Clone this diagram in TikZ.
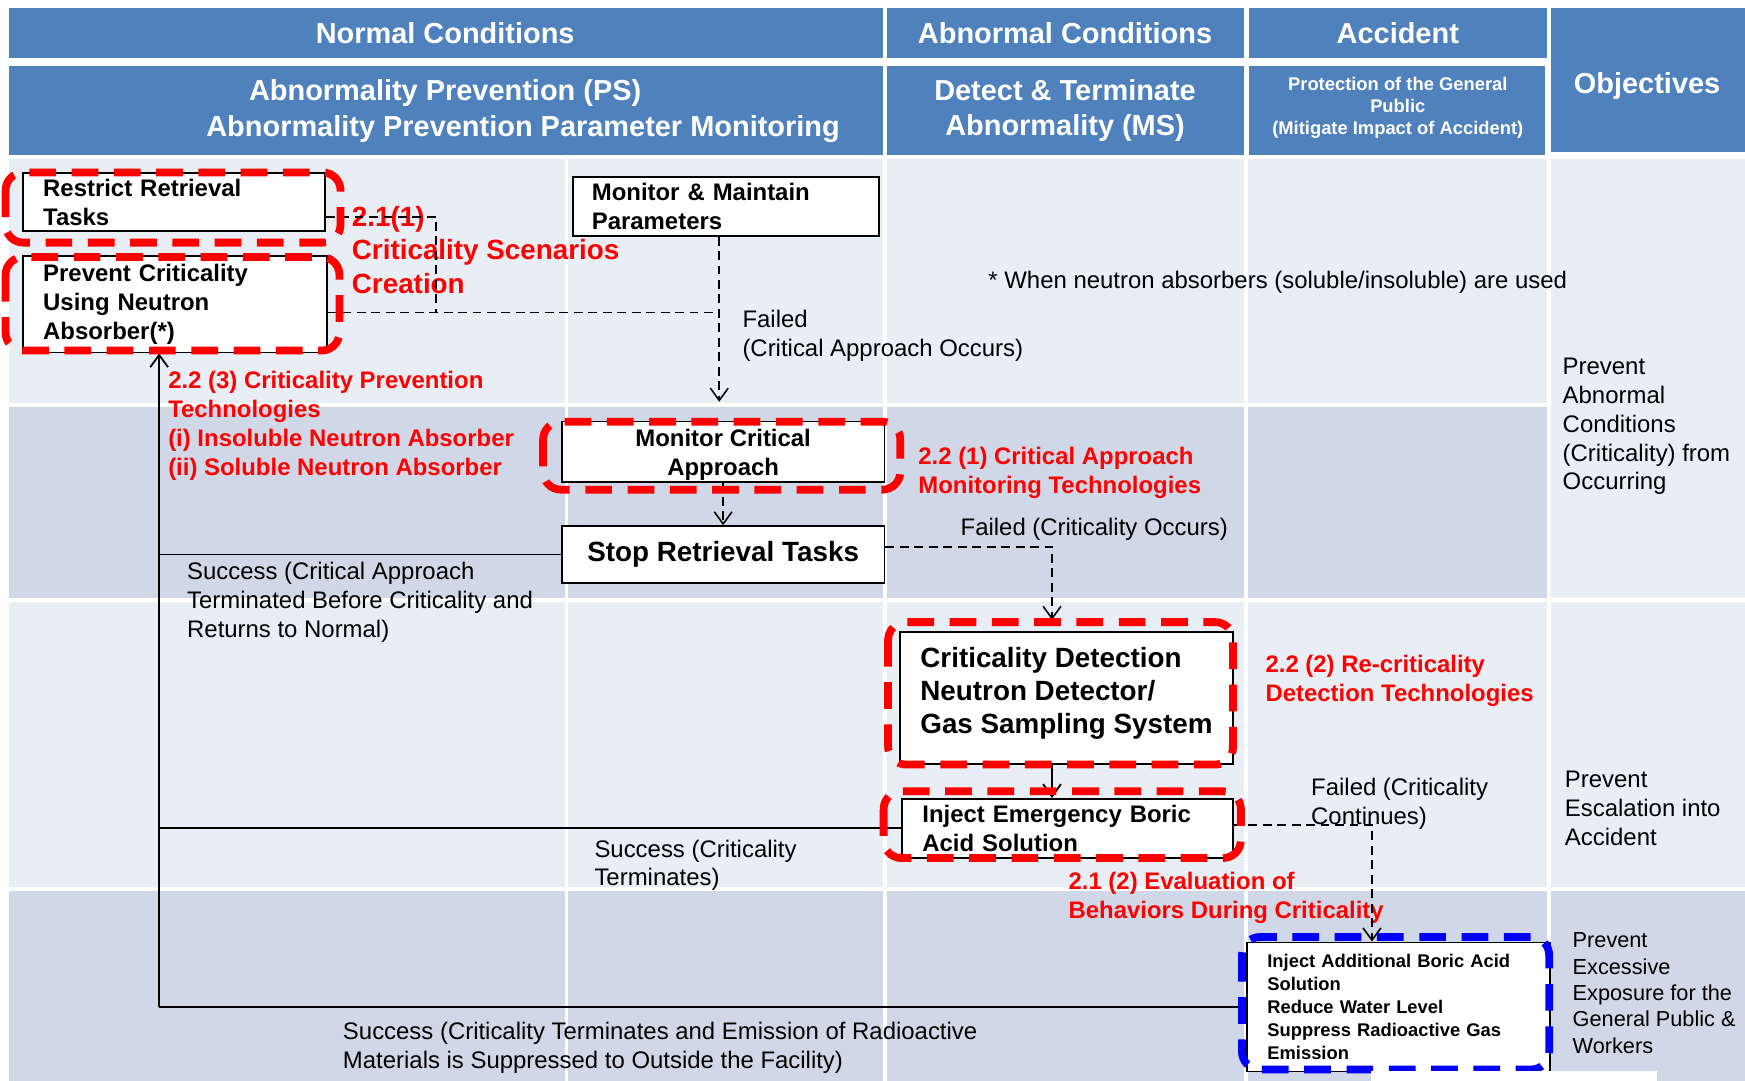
\documentclass[tikz,border=0pt]{standalone}
\usepackage{fontspec}
\setmainfont{Liberation Sans}
\usetikzlibrary{arrows.meta}
\definecolor{hdrblue}{HTML}{4F81BD}
\definecolor{rowlight}{HTML}{E9EDF4}
\definecolor{rowdark}{HTML}{D0D8E8}
\definecolor{hlred}{HTML}{FF0000}
\definecolor{hlblue}{HTML}{0000FF}
\newcommand{\fsz}[2]{\fontsize{#1}{#2}\selectfont}
\begin{document}
\begin{tikzpicture}[x=1pt,y=-1pt,
  hdrtxt/.style={text=white,inner sep=0pt,align=center,font=\bfseries\fsz{26}{31.5}},
  gridline/.style={white,line width=3.5pt},
  procbox/.style={draw=black,line width=1.6pt,fill=white,anchor=north west,align=left,inner xsep=18pt,inner ysep=0pt,font=\bfseries\fsz{21.5}{26}},
  cbox/.style={draw=black,line width=1.6pt,fill=white,anchor=north west,align=center,inner sep=0pt,minimum width=290pt,font=\bfseries\fsz{21.5}{26}},
  redframe/.style={draw=hlred,line width=7pt,rounded corners=16pt,dash pattern=on 24pt off 14pt},
  blueframe/.style={draw=hlblue,line width=7pt,rounded corners=16pt,dash pattern=on 24pt off 14pt},
  redlbl/.style={text=hlred,font=\bfseries\fsz{21.5}{26},anchor=north west,align=left,inner sep=0pt},
  lbl/.style={text=black,font=\fsz{21.5}{26},anchor=north west,align=left,inner sep=0pt},
  solidc/.style={draw=black,line width=1.6pt},
  dashc/.style={draw=black,line width=1.4pt,dash pattern=on 8pt off 5pt},
  barbtip/.style={-{Straight Barb[length=11pt,width=16pt]}},
]
\useasboundingbox (0,0) rectangle (1568,971);
\fill[white] (0,0) rectangle (1568,971);

% header cells
\fill[hdrblue] (8,7) rectangle (793,52);
\fill[hdrblue] (797,7) rectangle (1118,52);
\fill[hdrblue] (1122,7) rectangle (1390,52);
\fill[hdrblue] (8,59) rectangle (793,139);
\fill[hdrblue] (797,59) rectangle (1118,139);
\fill[hdrblue] (1122,59) rectangle (1388,139);
\fill[hdrblue] (1394,7) rectangle (1568,137);

% body bands
\fill[rowlight] (8,143) rectangle (1568,971);
\fill[rowdark] (8,364) rectangle (1392,539);
\fill[rowdark] (8,799) rectangle (1568,971);
\draw[gridline] (8,364) -- (1392,364);
\draw[gridline] (8,539) -- (1568,539);
\draw[gridline] (8,799) -- (1568,799);
\foreach \gx in {509,795,1120,1392} \draw[gridline] (\gx,143) -- (\gx,971);

% header texts
\node[hdrtxt,text height=18.7pt,text depth=0pt] (hNormal) at (400,30) {Normal Conditions};
\node[hdrtxt,text height=18.7pt,text depth=0pt] (hAbn) at (957,30) {Abnormal Conditions};
\node[hdrtxt,text height=18.7pt,text depth=0pt] (hAcc) at (1256,30) {Accident};
\node[hdrtxt,text height=18.7pt,text depth=0pt] (hPS1) at (400,81) {Abnormality Prevention (PS)};
\node[hdrtxt,text height=18.7pt,text depth=0pt] (hPS2) at (470,113) {Abnormality Prevention Parameter Monitoring};
\node[hdrtxt,anchor=north] (hMS) at (957,71.6) {Detect \& Terminate\\Abnormality (MS)};
\node[hdrtxt,anchor=north,font=\bfseries\fsz{16.5}{20}] (hProt) at (1256,69) {Protection of the General\\Public\\(Mitigate Impact of Accident)};
\node[hdrtxt,text height=18.7pt,text depth=0pt] (hObj) at (1480,75) {Objectives};

% labels
\node[redlbl,font=\bfseries\fsz{25}{30}] (L211) at (316,185) {2.1(1)\\Criticality Scenarios\\Creation};
\node[redlbl] (L223) at (151,333.3) {2.2 (3) Criticality Prevention\\Technologies\\(i) Insoluble Neutron Absorber\\(ii) Soluble Neutron Absorber};
\node[redlbl] (L221) at (825,401.3) {2.2 (1) Critical Approach\\Monitoring Technologies};
\node[redlbl] (L222) at (1137,588.3) {2.2 (2) Re-criticality\\Detection Technologies};
\node[redlbl] (L212) at (960,783.3) {2.1 (2) Evaluation of\\Behaviors During Criticality};

\node[lbl] (fail1) at (667,278.3) {Failed\\(Critical Approach Occurs)};
\node[lbl] (note) at (888,243.3) {* When neutron absorbers (soluble/insoluble) are used};
\node[lbl] (fail2) at (863,465.3) {Failed (Criticality Occurs)};
\node[lbl] (succ1) at (168,505.3) {Success (Critical Approach\\Terminated Before Criticality and\\Returns to Normal)};
\node[lbl] (fail3) at (1178,699.3) {Failed (Criticality\\Continues)};
\node[lbl] (succ2) at (534,754.3) {Success (Criticality\\Terminates)};
\node[lbl] (succ3) at (308,918.3) {Success (Criticality Terminates and Emission of Radioactive\\Materials is Suppressed to Outside the Facility)};
\node[lbl] (obj1) at (1404,321.3) {Prevent\\Abnormal\\Conditions\\(Criticality) from\\Occurring};
\node[lbl] (obj2) at (1406,692.3) {Prevent\\Escalation into\\Accident};
\node[lbl,font=\fsz{19.5}{23.7}] (obj3) at (1413,838) {Prevent\\Excessive\\Exposure for the\\General Public \&\\Workers};

% process boxes
\node[procbox,text width=235pt,minimum height=52pt] (RRT) at (20,155) {Restrict Retrieval\\Tasks};
\node[procbox,text width=237pt,minimum height=87pt] (PCA) at (20,229) {Prevent Criticality\\Using Neutron\\Absorber(*)};
\node[procbox,text width=241pt,inner xsep=17pt,minimum height=53pt] (MMP) at (514,158) {Monitor \& Maintain\\Parameters};
\node[cbox,minimum height=54pt] (MCA) at (504,378) {\rule{0pt}{22pt}Monitor Critical\\Approach};
\node[cbox,minimum height=51pt,font=\bfseries\fsz{25}{30}] (SRT) at (504,472) {Stop Retrieval Tasks};
\node[procbox,inner xsep=0pt,minimum width=299pt,minimum height=119pt,font=\bfseries\fsz{25}{30}] (CD) at (808,567) {Criticality Detection\\Neutron Detector/\\Gas Sampling System\rule[-14pt]{0pt}{14pt}};
\node[procbox,text width=261pt,minimum height=53pt] (IE) at (810,717) {Inject Emergency Boric\\Acid Solution};
\node[procbox,text width=236pt,minimum height=116pt,font=\bfseries\fsz{16.5}{20.5}] (IAB) at (1120,846) {Inject Additional Boric Acid\\Solution\\Reduce Water Level\\Suppress Radioactive Gas\\Emission};

% connectors
\coordinate (kA) at (392,280);
\coordinate (trunkx) at (143,0);
\path ([yshift=-13pt]RRT.east) coordinate (rrtE);
\path ([yshift=-7.5pt]PCA.east) coordinate (pcaE);
\path ([xshift=-6pt]MMP.south) coordinate (mmpS);
\path ([yshift=7pt]SRT.east) coordinate (srtE);
\path ([xshift=-13pt]CD.north) coordinate (cdN);
\path ([xshift=-13pt]CD.south) coordinate (cdS);
\path ([yshift=3pt]IE.east) coordinate (ieE);
\path ([xshift=-24pt]IAB.north) coordinate (iabN);

\draw[dashc] (rrtE) -| (kA);
\draw[dashc] (pcaE) -- (pcaE -| mmpS);
\draw[dashc,barbtip,shorten >=17pt] (mmpS) -- (mmpS |- MCA.north);
\draw[dashc,barbtip] (MCA.south) -- (SRT.north);
\draw[dashc,barbtip,shorten >=10pt] (srtE) -| (cdN);
\draw[solidc,barbtip] (cdS) -- (cdS |- IE.north);
\draw[dashc,barbtip] (ieE) -| (iabN);

\draw[solidc] (SRT.west) -- (SRT.west -| trunkx);
\draw[solidc] (IE.west) -- (IE.west -| trunkx);
\draw[solidc] (IAB.west) -- (IAB.west -| trunkx);
\draw[solidc,barbtip] (IAB.west -| trunkx) -- (trunkx |- PCA.south);

% highlight frames
\draw[redframe] (5,155) rectangle (306,218);
\draw[redframe] (5,231) rectangle (305,315);
\draw[redframe] (488,379) rectangle (809,440);
\draw[redframe] (798,559) rectangle (1108,687);
\draw[redframe] (794,711) rectangle (1115,771);
\draw[blueframe] (1116,842) rectangle (1392,961);

\fill[white] (1232,962) rectangle (1489,971);
\end{tikzpicture}
\end{document}
